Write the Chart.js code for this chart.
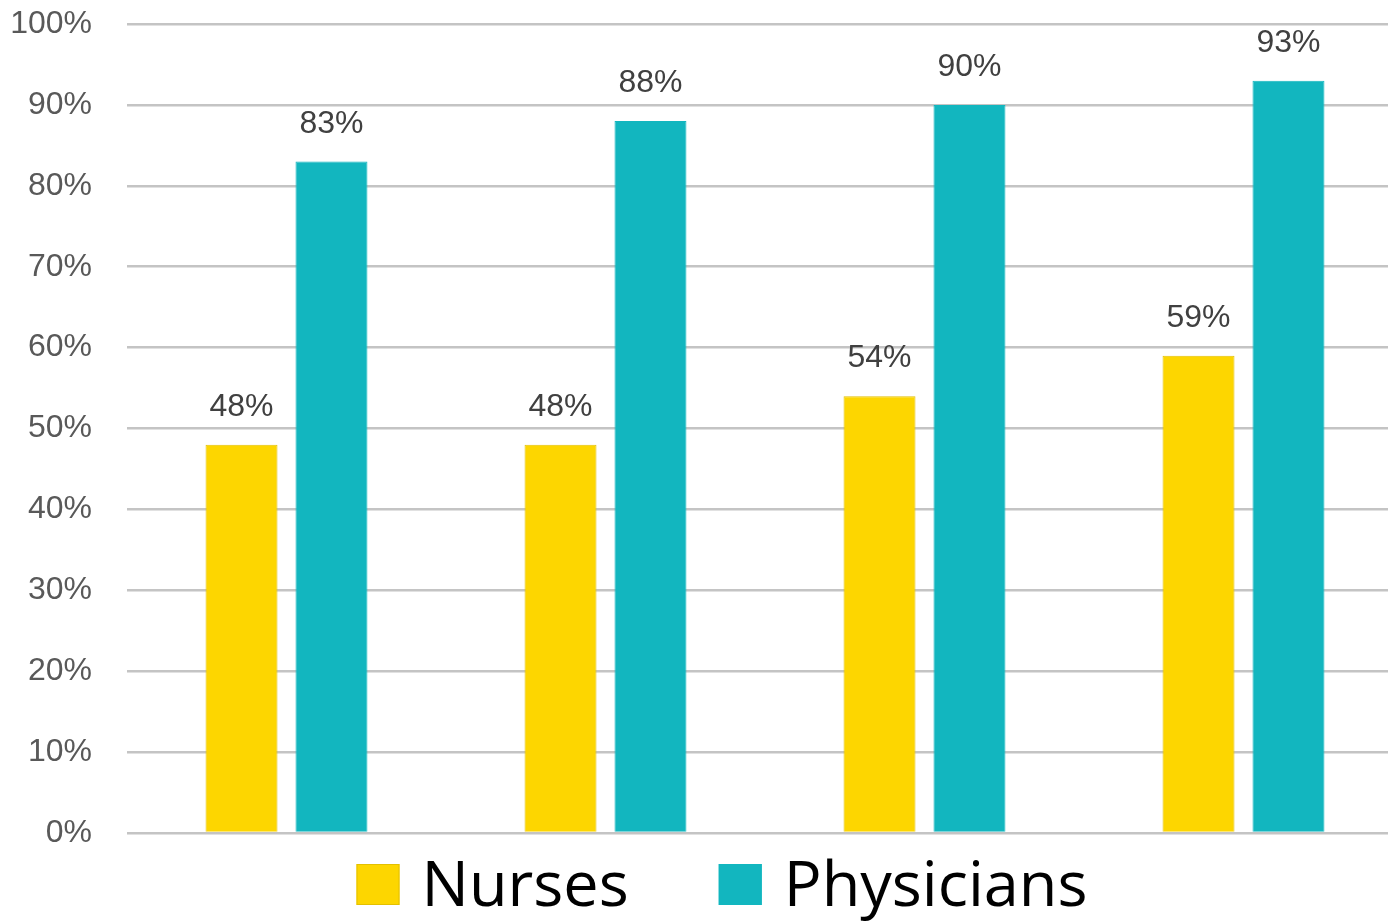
<!DOCTYPE html>
<html>
<head>
<meta charset="utf-8">
<script src="https://cdn.jsdelivr.net/npm/chart.js@4/dist/chart.umd.min.js"></script>
<style>
html,body{margin:0;padding:0;background:#fff;overflow:hidden}
#wrap{width:1403px;height:922px}
</style>
</head>
<body>
<div id="wrap"><canvas id="c" width="1403" height="922"></canvas></div>
<script>
const categories = ['Group 1', 'Group 2', 'Group 3', 'Group 4'];
const nurses = [48, 48, 54, 59];
const physicians = [83, 88, 90, 93];
const seriesNames = ['Nurses', 'Physicians'];
const seriesColors = ['#FDD600', '#12B6BF'];
const seriesBorders = ['#E3C000', '#12B6BF'];
const yMin = 0, yMax = 100, yStep = 10;

const valueLabels = {
  id: 'valueLabels',
  afterDatasetsDraw(chart) {
    const ctx = chart.ctx;
    ctx.save();
    ctx.font = '32px "Liberation Sans", Arial, sans-serif';
    ctx.fillStyle = '#404040';
    ctx.textAlign = 'center';
    ctx.textBaseline = 'alphabetic';
    chart.data.datasets.forEach((ds, i) => {
      chart.getDatasetMeta(i).data.forEach((bar, j) => {
        ctx.fillText(ds.data[j] + '%', bar.x, bar.y - 29);
      });
    });
    ctx.restore();
  }
};

const bottomLegend = {
  id: 'bottomLegend',
  afterDraw(chart) {
    const ctx = chart.ctx;
    ctx.save();
    ctx.font = '63px "Open Sans", sans-serif';
    const boxW = 43, boxH = 41, gapBoxText = 22, gapItems = 90;
    const items = chart.data.datasets.map(ds => ({
      text: ds.label, fill: ds.backgroundColor, stroke: ds.borderColor,
      w: ctx.measureText(ds.label).width
    }));
    let total = 0;
    items.forEach((it, i) => { total += boxW + gapBoxText + it.w + (i < items.length - 1 ? gapItems : 0); });
    let x = 722 - total / 2;
    const boxTop = 864, baseline = 906;
    items.forEach(it => {
      ctx.fillStyle = it.fill;
      ctx.fillRect(x, boxTop, boxW, boxH);
      ctx.strokeStyle = it.stroke;
      ctx.lineWidth = 1;
      ctx.strokeRect(x + 0.5, boxTop + 0.5, boxW - 1, boxH - 1);
      ctx.fillStyle = '#000';
      ctx.textAlign = 'left';
      ctx.textBaseline = 'alphabetic';
      ctx.fillText(it.text, x + boxW + gapBoxText, baseline);
      x += boxW + gapBoxText + it.w + gapItems;
    });
    ctx.restore();
  }
};

new Chart(document.getElementById('c'), {
  type: 'bar',
  data: {
    labels: categories,
    datasets: [
      { label: seriesNames[0], data: nurses, backgroundColor: seriesColors[0], borderColor: seriesBorders[0], borderWidth: 1 },
      { label: seriesNames[1], data: physicians, backgroundColor: seriesColors[1], borderColor: seriesBorders[1], borderWidth: 1 }
    ]
  },
  options: {
    responsive: false,
    devicePixelRatio: 1,
    animation: false,
    layout: { padding: { top: 24, bottom: 89, left: 0, right: 0 } },
    datasets: { bar: { categoryPercentage: 0.564, barPercentage: 0.8 } },
    plugins: { legend: { display: false }, tooltip: { enabled: false } },
    scales: {
      x: { display: false },
      y: {
        min: yMin, max: yMax,
        afterFit(scale) { scale.width = 127; scale.paddingTop = 0; scale.paddingBottom = 0; },
        border: { display: false },
        grid: { color: '#c4c4c4', lineWidth: 2.5, drawTicks: false },
        ticks: {
          stepSize: yStep,
          padding: 35,
          color: '#595959',
          font: { family: '"Liberation Sans", Arial, sans-serif', size: 32 },
          callback: v => v + '%'
        }
      }
    }
  },
  plugins: [valueLabels, bottomLegend]
});
</script>
</body>
</html>
